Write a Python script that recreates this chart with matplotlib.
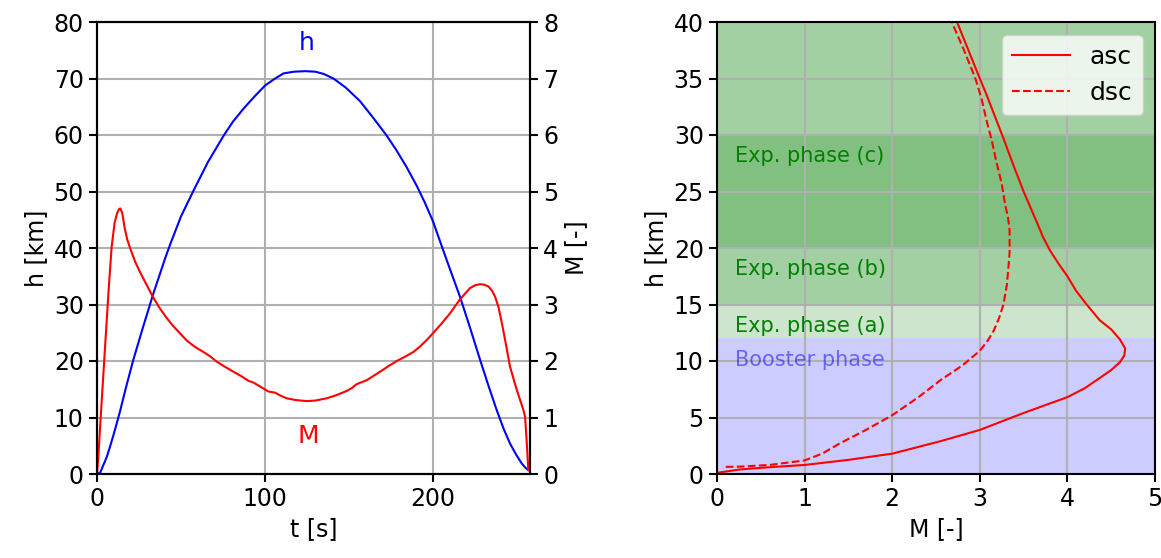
import numpy as np
import matplotlib
matplotlib.use("Agg")
import matplotlib.pyplot as plt

plt.rcParams['font.family'] = ['DejaVu Sans']
plt.rcParams['font.size'] = 17

# ---- left chart: trajectory over time ----
t_h = [0, 2, 3.8, 5.8, 7.7, 9.7, 11.7, 13.7, 17.5, 21.6, 27.5, 33.5, 40.7, 43.5, 50,
       57.5, 66, 75.4, 81, 87.3, 94, 100.2, 106, 111, 117, 124, 130, 135, 140.7, 148,
       156.5, 164, 172.4, 178, 184.3, 190.3, 195, 200, 205.2, 210.5, 216, 222, 228,
       233, 237.9, 242, 245.8, 249.5, 252.7, 255, 256.7]
h_t = [0, 0.3, 1.6, 3.0, 4.8, 6.8, 8.9, 11.1, 15.6, 20.2, 26.1, 31.9, 38.3, 40.6, 45.6,
       50.2, 55.2, 59.9, 62.4, 64.7, 66.9, 68.8, 70.0, 70.9, 71.2, 71.3, 71.2, 70.8,
       70.0, 68.4, 66.0, 63.2, 59.9, 57.4, 54.3, 51.0, 48.1, 44.7, 40.3, 35.9, 31.4,
       25.9, 20.2, 15.6, 11.3, 8.0, 5.4, 3.4, 1.9, 1.1, 0.7]

t_M = [0, 0.8, 2.5, 4.8, 6.8, 8.7, 10.5, 12.0, 13.2, 13.9, 15.0, 16.5, 18.0, 19.8,
       22.8, 26, 29.5, 33, 37, 41, 45, 49.4, 53.5, 58.3, 63.3, 67, 71.2, 76, 81.2,
       86, 90.1, 93, 97, 102, 106, 109, 112.9, 118, 124.8, 130, 136.7, 142, 148.6,
       151.6, 154.5, 160.5, 168.5, 173, 178.4, 183, 188.3, 192, 196.2, 200.2, 205,
       210, 216, 222, 225, 228, 230.5, 232.9, 235, 236.9, 238.9, 240.9, 242.9, 245.8,
       249.8, 253.8, 254.8, 255.8, 256.7]
M_t = [0, 0.31, 1.15, 2.25, 3.2, 4.02, 4.45, 4.62, 4.69, 4.70, 4.62, 4.35, 4.15,
       3.99, 3.75, 3.55, 3.35, 3.15, 2.95, 2.78, 2.63, 2.49, 2.36, 2.25, 2.16, 2.09,
       1.99, 1.90, 1.81, 1.73, 1.65, 1.62, 1.55, 1.46, 1.44, 1.39, 1.34, 1.31, 1.29,
       1.30, 1.34, 1.39, 1.47, 1.52, 1.59, 1.66, 1.81, 1.90, 2.0, 2.07, 2.16, 2.25,
       2.37, 2.50, 2.66, 2.84, 3.09, 3.29, 3.34, 3.36, 3.35, 3.32, 3.25, 3.14, 2.96,
       2.68, 2.37, 1.90, 1.49, 1.13, 1.01, 0.54, 0.07]

# ---- right chart: altitude vs Mach ----
M_asc = [0.0, 0.26, 0.6, 1.0, 1.5, 2.0, 2.55, 3.0, 3.5, 4.0, 4.2, 4.37, 4.5, 4.60,
         4.65, 4.66, 4.60, 4.5, 4.37, 4.22, 4.1, 4.0, 3.9, 3.80, 3.72, 3.65, 3.50,
         3.38, 3.27, 3.14, 3.07, 3.0, 2.87, 2.74, 2.71]
h_asc = [0.1, 0.4, 0.6, 0.8, 1.25, 1.8, 2.9, 3.9, 5.4, 6.8, 7.6, 8.5, 9.2, 9.9,
         10.5, 11.1, 11.9, 12.8, 13.6, 15.0, 16.2, 17.5, 18.6, 19.8, 21.0, 22.3, 25.0,
         27.4, 29.7, 32.3, 33.7, 35.0, 37.5, 40.0, 40.5]

M_dsc = [0.1, 0.26, 0.6, 1.0, 1.2, 1.40, 1.7, 2.0, 2.3, 2.55, 2.8, 3.0, 3.09, 3.16,
         3.22, 3.27, 3.31, 3.33, 3.34, 3.34, 3.32, 3.29, 3.25, 3.19, 3.14, 3.08,
         3.02, 2.95, 2.82, 2.68, 2.66]
h_dsc = [0.63, 0.65, 0.8, 1.2, 1.8, 2.7, 3.9, 5.2, 6.8, 8.3, 9.6, 10.9, 11.8, 12.7,
         13.8, 15.0, 16.8, 18.6, 19.6, 21.6, 22.8, 23.8, 25.7, 27.6, 29.4, 31.2,
         33.2, 35.0, 37.5, 40.0, 40.5]

phase_labels = ['Booster phase', 'Exp. phase (a)', 'Exp. phase (b)', 'Exp. phase (c)']
phase_label_h = [10.1, 13.1, 18.1, 28.1]

fig = plt.figure(figsize=(11.61, 5.58), dpi=100)
W, H = 1161, 558

ax1 = fig.add_axes([97 / W, 84 / H, 433 / W, 452 / H])
ax1.plot(t_h, h_t, color='blue', lw=1.5)
ax1.set_xlim(0, 257.7)
ax1.set_ylim(0, 80)
ax1.set_xticks([0, 100, 200])
ax1.set_xlabel('t [s]')
ax1.set_ylabel('h [km]')
ax1.grid(True, lw=1.5)
ax1.text(125, 76.3, 'h', color='blue', ha='center', va='center', fontsize=18)

ax2 = ax1.twinx()
ax2.plot(t_M, M_t, color='red', lw=1.5)
ax2.set_ylim(0, 8)
ax2.set_ylabel('M [-]')
ax2.text(126, 0.68, 'M', color='red', ha='center', va='center', fontsize=18)

for a in (ax1, ax2):
    for s in a.spines.values():
        s.set_linewidth(1.5)
    a.tick_params(width=1.5, length=6)

ax3 = fig.add_axes([717 / W, 84 / H, 438 / W, 452 / H])
ax3.axhspan(0, 12, color='blue', alpha=0.2, lw=0)
ax3.axhspan(12, 40, color='green', alpha=0.2, lw=0)
ax3.axhspan(15, 40, color='green', alpha=0.2, lw=0)
ax3.axhspan(20, 30, color='green', alpha=0.2, lw=0)
ax3.plot(M_asc, h_asc, color='red', lw=1.5, label='asc')
ax3.plot(M_dsc, h_dsc, color='red', lw=1.5, ls='--', label='dsc')
for lab, hh in zip(phase_labels, phase_label_h):
    col = 'blue' if lab.startswith('Booster') else 'green'
    al = 0.5 if lab.startswith('Booster') else 1.0
    ax3.text(0.2, hh, lab, color=col, alpha=al, ha='left', va='center', fontsize=15)
ax3.set_xlim(0, 5)
ax3.set_ylim(0, 40)
ax3.set_xlabel('M [-]')
ax3.set_ylabel('h [km]')
ax3.grid(True, lw=1.5)
ax3.legend(loc='upper right', fontsize=18, handlelength=2.3)
for s in ax3.spines.values():
    s.set_linewidth(1.5)
ax3.tick_params(width=1.5, length=6)

fig.savefig('out.png', dpi=100)
